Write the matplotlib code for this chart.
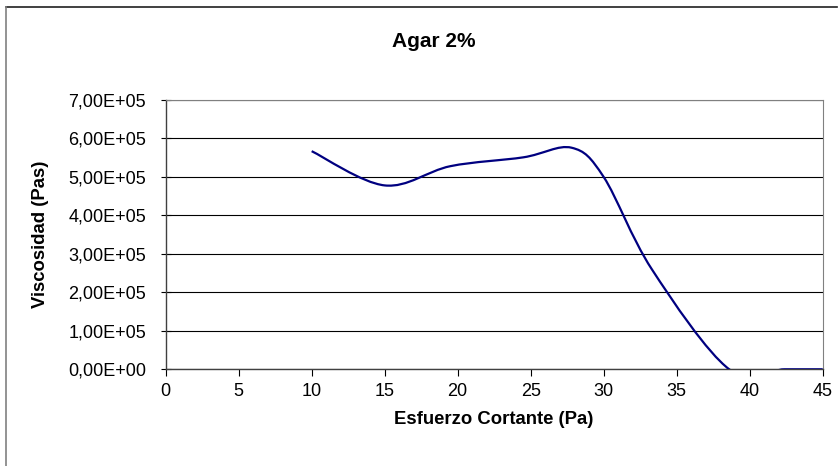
import numpy as np
import matplotlib
matplotlib.use('Agg')
import matplotlib.pyplot as plt
from matplotlib.path import Path
from matplotlib.patches import PathPatch
from matplotlib.lines import Line2D

plt.rcParams['font.family'] = ['Liberation Sans', 'DejaVu Sans']

# Datos
esfuerzo = [10, 15, 19.5, 24.5, 27.8, 30, 33.3, 38.6, 42.4, 45]
viscosidad = [5.67e5, 4.78e5, 5.28e5, 5.51e5, 5.76e5, 5.0e5, 2.6e5, 0.0, 0.0, 0.0]
yticks = np.arange(0, 7.01e5, 1e5)
xticks = list(range(0, 46, 5))


def curva_suave(x, y):
    # suavizado tipo Excel: Bezier cubico entre puntos
    p = np.column_stack([x, y])
    n = len(p)
    verts = [p[0]]
    codes = [Path.MOVETO]
    for i in range(n - 1):
        p0 = p[max(i - 1, 0)]
        p1 = p[i]
        p2 = p[i + 1]
        p3 = p[min(i + 2, n - 1)]
        c1 = p1 + (p2 - p0) / 6.0
        c2 = p2 - (p3 - p1) / 6.0
        verts += [c1, c2, p2]
        codes += [Path.CURVE4] * 3
    return Path(verts, codes)


fig = plt.figure(figsize=(8.38, 4.66), dpi=100)
ax = fig.add_axes([0.1977, 0.2075, 0.784, 0.5779])

ax.set_xlim(0, 45)
ax.set_ylim(0, 7e5)
ax.set_yticks(yticks)
ax.set_xticks(xticks)
ax.set_yticklabels(['{:.2E}'.format(v).replace('.', ',') for v in yticks])
ax.grid(axis='y', color='black', linewidth=0.8)
ax.set_axisbelow(True)

patch = PathPatch(curva_suave(esfuerzo, viscosidad), facecolor='none',
                  edgecolor='#000080', linewidth=1.6, zorder=3)
ax.add_patch(patch)

for lado in ['top', 'right']:
    ax.spines[lado].set_color('#808080')
for lado in ['left', 'bottom']:
    ax.spines[lado].set_color('#404040')
    ax.spines[lado].set_linewidth(1.0)

ax.tick_params(axis='y', direction='inout', length=7, labelsize=13, pad=10.5)
ax.tick_params(axis='x', direction='out', length=5, labelsize=13, pad=5)

ax.set_xlabel('Esfuerzo Cortante (Pa)', fontsize=13.3, fontweight='bold', va='center')
ax.set_ylabel('Viscosidad (Pas)', fontsize=13.3, fontweight='bold', va='center')
ax.xaxis.set_label_coords(0.5, -0.185)
ax.yaxis.set_label_coords(-0.19, 0.5)
fig.text(0.518, 0.912, 'Agar 2%', fontsize=15, fontweight='bold', ha='center', va='center')

# marco del grafico
fig.add_artist(Line2D([6 / 838, 837 / 838], [1 - 7 / 466, 1 - 7 / 466],
                      transform=fig.transFigure, color='#202020', linewidth=1.2))
fig.add_artist(Line2D([6 / 838, 6 / 838], [0, 1 - 7 / 466],
                      transform=fig.transFigure, color='#808080', linewidth=1.2))

plt.savefig('out.png', dpi=100)
